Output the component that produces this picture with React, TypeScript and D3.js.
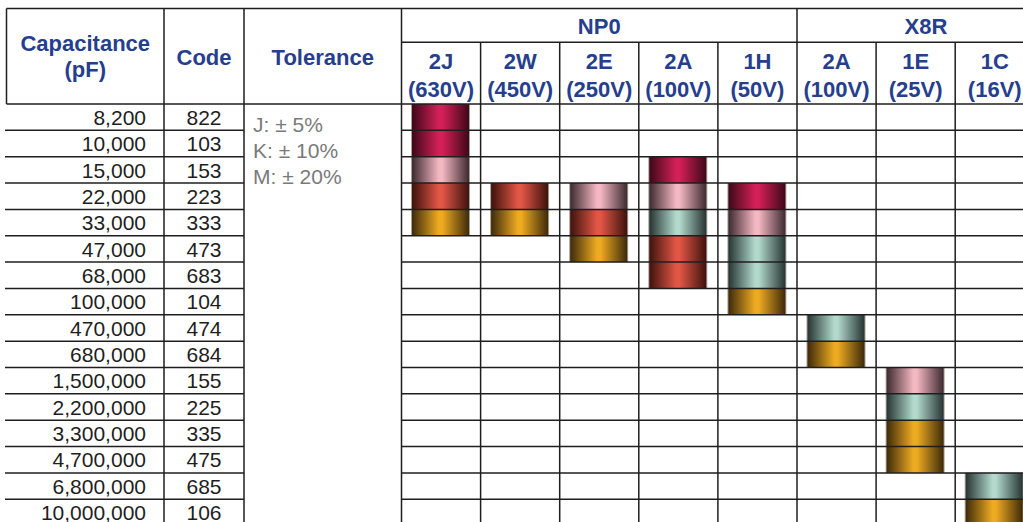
import React from 'react';
import * as d3 from 'd3';

// table content
const capacitances = ['8,200', '10,000', '15,000', '22,000', '33,000', '47,000', '68,000', '100,000', '470,000', '680,000', '1,500,000', '2,200,000', '3,300,000', '4,700,000', '6,800,000', '10,000,000'];
const codes = ['822', '103', '153', '223', '333', '473', '683', '104', '474', '684', '155', '225', '335', '475', '685', '106'];
const tolerances = ['J: \u00b1 5%', 'K: \u00b1 10%', 'M: \u00b1 20%'];
const dielectrics = ['NP0', 'X8R'];
const voltageKeys = ['NP0-2J', 'NP0-2W', 'NP0-2E', 'NP0-2A', 'NP0-1H', 'X8R-2A', 'X8R-1E', 'X8R-1C'];
const voltageCodes = ['2J', '2W', '2E', '2A', '1H', '2A', '1E', '1C'];
const voltageLabels = ['(630V)', '(450V)', '(250V)', '(100V)', '(50V)', '(100V)', '(25V)', '(16V)'];

// which case colour sits in each cell, top to bottom from the start code
const stacks = [
  { key: 'NP0-2J', start: '822', colors: ['crimson', 'crimson', 'pink', 'red', 'gold'] },
  { key: 'NP0-2W', start: '223', colors: ['red', 'gold'] },
  { key: 'NP0-2E', start: '223', colors: ['pink', 'red', 'gold'] },
  { key: 'NP0-2A', start: '153', colors: ['crimson', 'pink', 'teal', 'red', 'red'] },
  { key: 'NP0-1H', start: '223', colors: ['crimson', 'pink', 'teal', 'teal', 'gold'] },
  { key: 'X8R-2A', start: '474', colors: ['teal', 'gold'] },
  { key: 'X8R-1E', start: '155', colors: ['pink', 'teal', 'gold', 'gold'] },
  { key: 'X8R-1C', start: '685', colors: ['teal', 'gold'] },
];

const shades: Record<string, [string, string]> = {
  crimson: ['#3e0818', '#d42058'],
  pink: ['#3e2a30', '#f4b8c2'],
  red: ['#3e120c', '#e25646'],
  gold: ['#3e2a0a', '#eeab22'],
  teal: ['#263432', '#b2d9cc'],
};

const W = 1023;
const H = 522;
const top = 8.5;
const midY = 42.3;
const headY = 104;
const xLeft = 6.5;
const xCode = 164;
const xTol = 244;
const xVolt = 401.5;
const colW = 79.1;
const rowH = 26.35;
const blue = '#263e8e';
const ink = '#1e1e1e';
const font = 'Liberation Sans, Arial, sans-serif';

export default function App() {
  const x = d3.scaleBand<string>().domain(voltageKeys).range([xVolt, xVolt + colW * voltageKeys.length]);
  const y = d3.scaleBand<string>().domain(codes).range([headY, headY + rowH * codes.length]);
  const bw = 57;
  const inset = 10.5;

  const cells = stacks.flatMap(s => {
    const i0 = codes.indexOf(s.start);
    return s.colors.map((c, k) => ({ key: s.key, code: codes[i0 + k], color: c }));
  });

  const hLines: JSX.Element[] = [];
  codes.forEach((c, i) => {
    if (i === 0) return;
    const yy = y(c)!;
    hLines.push(<line key={'hl' + i} x1={5} x2={xTol} y1={yy} y2={yy} />);
    hLines.push(<line key={'hr' + i} x1={xVolt} x2={W} y1={yy} y2={yy} />);
  });

  const x8r = x('X8R-2A')!;

  return (
    <svg width={W} height={H} style={{ position: 'absolute', left: 0, top: 0 }} fontFamily={font}>
      <defs>
        {Object.entries(shades).map(([k, [dark, light]]) => (
          <linearGradient key={k} id={'g-' + k} x1="0" x2="1" y1="0" y2="0">
            <stop offset="0" stopColor={dark} />
            <stop offset="0.47" stopColor={light} />
            <stop offset="0.53" stopColor={light} />
            <stop offset="1" stopColor={dark} />
          </linearGradient>
        ))}
      </defs>
      <rect width={W} height={H} fill="#fff" />

      {/* capacitor bodies */}
      {cells.map((d, i) => (
        <g key={'c' + i}>
          <rect x={x(d.key)! + inset - 1} y={y(d.code)!} width={bw + 2} height={y.bandwidth()} fill="#a8a098" />
          <rect x={x(d.key)! + inset} y={y(d.code)!} width={bw} height={y.bandwidth()} fill={`url(#g-${d.color})`} />
        </g>
      ))}

      {/* grid */}
      <g stroke={ink} strokeWidth={1.5}>
        <line x1={xLeft} x2={W} y1={top} y2={top} />
        <line x1={xVolt} x2={W} y1={midY} y2={midY} />
        <line x1={xLeft} x2={W} y1={headY} y2={headY} />
        <line x1={xLeft} x2={xLeft} y1={top} y2={headY} />
        {[xCode, xTol, xVolt, x8r].map((v, i) => (
          <line key={'v' + i} x1={v} x2={v} y1={top} y2={H} />
        ))}
        {voltageKeys.slice(1).filter(k => k !== 'X8R-2A').map(k => (
          <line key={'vv' + k} x1={x(k)!} x2={x(k)!} y1={midY} y2={H} />
        ))}
        {hLines}
      </g>

      {/* headers */}
      <g fill={blue} fontWeight="bold" fontSize={22} textAnchor="middle">
        <text x={(xLeft + xCode) / 2} y={51}>Capacitance</text>
        <text x={(xLeft + xCode) / 2} y={77}>(pF)</text>
        <text x={(xCode + xTol) / 2} y={64.5}>Code</text>
        <text x={(xTol + xVolt) / 2} y={64.5}>Tolerance</text>
        <text x={(xVolt + x8r) / 2} y={34}>{dielectrics[0]}</text>
        <text x={(x8r + W) / 2 + 16} y={34}>{dielectrics[1]}</text>
        {voltageKeys.map((k, i) => (
          <g key={'vh' + k}>
            <text x={x(k)! + x.bandwidth() / 2} y={68.5}>{voltageCodes[i]}</text>
            <text x={x(k)! + x.bandwidth() / 2} y={96.5}>{voltageLabels[i]}</text>
          </g>
        ))}
      </g>

      {/* rows */}
      <g fill={ink} fontSize={21}>
        {codes.map((c, i) => (
          <g key={'r' + c}>
            <text x={146} y={y(c)! + 20.8} textAnchor="end">{capacitances[i]}</text>
            <text x={(xCode + xTol) / 2} y={y(c)! + 20.8} textAnchor="middle">{c}</text>
          </g>
        ))}
      </g>
      <g fill="#7a7a7a" fontSize={21}>
        {tolerances.map((t, i) => (
          <text key={t} x={253} y={131.7 + i * 26}>{t}</text>
        ))}
      </g>
    </svg>
  );
}
